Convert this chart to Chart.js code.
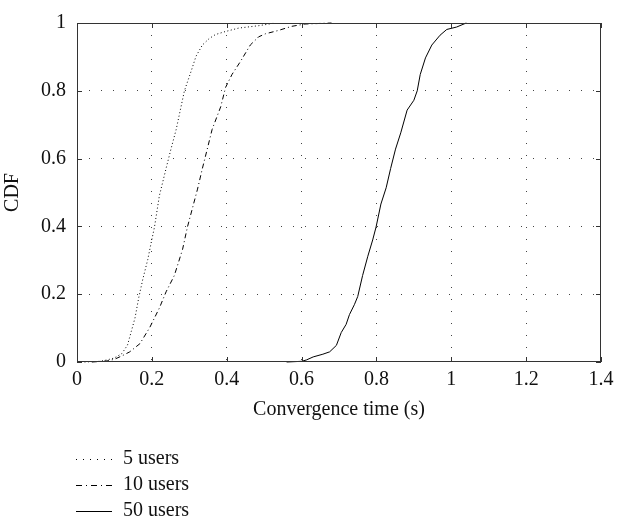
<!DOCTYPE html>
<html lang="en">

<head>
	<meta charset="UTF-8">
	<title>CDF of convergence time</title>
	<script src="https://cdn.jsdelivr.net/npm/chart.js"></script>
	<style>
		body {
			margin: 0;
			padding: 0;
			background: #fff;
		}

		.chart-box {
			width: 619px;
			height: 525px;
		}
	</style>
</head>

<body>

	<div class="chart-box">
		<canvas id="cdfChart" width="619" height="525"></canvas>
	</div>

	<script>

		// Data
		const seriesNames = ['5 users', '10 users', '50 users'];

		const x5 = [0.02, 0.06, 0.08, 0.10, 0.12, 0.135, 0.145, 0.155, 0.165, 0.176, 0.189, 0.198, 0.207, 0.220, 0.238, 0.251, 0.265, 0.287, 0.305, 0.318, 0.335, 0.353, 0.370, 0.397, 0.432, 0.485, 0.53];
		const y5 = [0, 0.002, 0.006, 0.012, 0.025, 0.05, 0.09, 0.13, 0.19, 0.245, 0.302, 0.351, 0.398, 0.49, 0.571, 0.628, 0.686, 0.80, 0.858, 0.902, 0.935, 0.954, 0.966, 0.975, 0.985, 0.992, 1];

		const x10 = [0.04, 0.08, 0.10, 0.12, 0.141, 0.168, 0.194, 0.220, 0.238, 0.260, 0.282, 0.295, 0.309, 0.322, 0.335, 0.348, 0.361, 0.384, 0.397, 0.414, 0.437, 0.463, 0.485, 0.503, 0.538, 0.573, 0.609, 0.68];
		const y10 = [0, 0.003, 0.008, 0.018, 0.03, 0.054, 0.101, 0.159, 0.207, 0.255, 0.332, 0.398, 0.456, 0.51, 0.571, 0.628, 0.686, 0.753, 0.81, 0.848, 0.887, 0.935, 0.959, 0.968, 0.978, 0.99, 0.997, 1];

		const x50 = [0.56, 0.60, 0.613, 0.631, 0.657, 0.675, 0.693, 0.706, 0.719, 0.728, 0.741, 0.750, 0.763, 0.777, 0.790, 0.799, 0.812, 0.826, 0.838, 0.851, 0.865, 0.882, 0.900, 0.909, 0.917, 0.931, 0.948, 0.970, 0.988, 1.014, 1.04];
		const y50 = [0, 0.002, 0.006, 0.015, 0.023, 0.03, 0.049, 0.087, 0.111, 0.14, 0.169, 0.193, 0.255, 0.312, 0.36, 0.398, 0.466, 0.514, 0.571, 0.628, 0.676, 0.743, 0.772, 0.80, 0.848, 0.897, 0.935, 0.964, 0.981, 0.988, 1];

		const xTicks = [0, 0.2, 0.4, 0.6, 0.8, 1, 1.2, 1.4];
		const yTicks = [0, 0.2, 0.4, 0.6, 0.8, 1];

		const FONT = 'Liberation Serif';
		const FONT_SIZE = 20;
		const INK = '#111';

		function toPoints(xs, ys) {
			return xs.map((x, i) => ({x: x, y: ys[i]}));
		}

		function isEdge(value, ticks) {
			return Math.abs(value - ticks[0]) < 1e-9 || Math.abs(value - ticks[ticks.length - 1]) < 1e-9;
		}

		// "1" rather than "1.0", like the original figure
		function tickText(value) {
			return String(+value.toFixed(1));
		}

		// Frame with inward tick marks, MATLAB style
		const framePlugin = {
			id: 'frame',
			afterDatasetsDraw(chart) {
				const {ctx, chartArea: a, scales} = chart;
				const len = 5;
				ctx.save();
				ctx.strokeStyle = '#333';
				ctx.lineWidth = 1;
				ctx.strokeRect(a.left + 0.5, a.top + 0.5, a.right - a.left - 1, a.bottom - a.top - 1);
				ctx.beginPath();
				xTicks.forEach(v => {
					const px = Math.round(scales.x.getPixelForValue(v)) + 0.5;
					ctx.moveTo(px, a.bottom);
					ctx.lineTo(px, a.bottom - len);
					ctx.moveTo(px, a.top);
					ctx.lineTo(px, a.top + len);
				});
				yTicks.forEach(v => {
					const py = Math.round(scales.y.getPixelForValue(v)) + 0.5;
					ctx.moveTo(a.left, py);
					ctx.lineTo(a.left + len, py);
					ctx.moveTo(a.right, py);
					ctx.lineTo(a.right - len, py);
				});
				ctx.stroke();
				ctx.restore();
			}
		};

		// Legend stacked below the plot
		const legendPlugin = {
			id: 'stackLegend',
			afterDraw(chart) {
				const {ctx} = chart;
				const rows = [459, 485, 511];
				ctx.save();
				ctx.font = FONT_SIZE + 'px "' + FONT + '"';
				ctx.textBaseline = 'middle';
				ctx.textAlign = 'left';
				chart.data.datasets.forEach((ds, i) => {
					const y = rows[i] + 0.5;
					ctx.strokeStyle = ds.borderColor;
					ctx.lineWidth = ds.borderWidth;
					ctx.setLineDash(ds.legendDash);
					ctx.beginPath();
					ctx.moveTo(76, y);
					ctx.lineTo(112, y);
					ctx.stroke();
					ctx.setLineDash([]);
					ctx.fillStyle = INK;
					ctx.fillText(ds.label, 123, rows[i]);
				});
				ctx.restore();
			}
		};

		function makeSet(label, xs, ys, dash, legendDash) {
			return {
				label: label,
				data: toPoints(xs, ys),
				showLine: true,
				borderColor: '#000',
				borderWidth: 1,
				borderDash: dash,
				legendDash: legendDash,
				pointRadius: 0,
				tension: 0,
				clip: false
			};
		}

		const ctx = document.getElementById('cdfChart').getContext('2d');
		new Chart(ctx, {
			type: 'scatter',
			data: {
				datasets: [
					makeSet(seriesNames[0], x5, y5, [1, 2.5], [1, 6]),
					makeSet(seriesNames[1], x10, y10, [5, 3, 1, 3], [6, 4, 1, 4]),
					makeSet(seriesNames[2], x50, y50, [], [])
				]
			},
			options: {
				responsive: false,
				animation: false,
				layout: {
					padding: {left: 0, top: 14, right: 13, bottom: 103}
				},
				plugins: {
					legend: {display: false},
					tooltip: {enabled: false}
				},
				scales: {
					x: {
						type: 'linear',
						min: 0,
						max: 1.4,
						afterBuildTicks: scale => {
							scale.ticks = xTicks.map(v => ({value: v}));
						},
						afterFit: scale => {
							scale.height = 60;
						},
						ticks: {
							padding: 5.5,
							color: INK,
							font: {family: FONT, size: FONT_SIZE},
							callback: tickText
						},
						grid: {
							drawTicks: false,
							lineWidth: 1,
							color: c => isEdge(c.tick.value, xTicks) ? 'rgba(0,0,0,0)' : '#444'
						},
						border: {display: false, dash: [1, 11]},
						title: {
							display: true,
							text: 'Convergence time (s)',
							color: INK,
							padding: {top: 0, bottom: 0},
							font: {family: FONT, size: FONT_SIZE}
						}
					},
					y: {
						type: 'linear',
						min: 0,
						max: 1,
						afterBuildTicks: scale => {
							scale.ticks = yTicks.map(v => ({value: v}));
						},
						afterFit: scale => {
							scale.width = 77;
						},
						ticks: {
							padding: 11,
							color: INK,
							font: {family: FONT, size: FONT_SIZE},
							callback: tickText
						},
						grid: {
							drawTicks: false,
							lineWidth: 1,
							color: c => isEdge(c.tick.value, yTicks) ? 'rgba(0,0,0,0)' : '#444'
						},
						border: {display: false, dash: [1, 11]},
						title: {
							display: true,
							text: 'CDF',
							color: INK,
							padding: {top: 0.5, bottom: 0},
							font: {family: FONT, size: FONT_SIZE}
						}
					}
				}
			},
			plugins: [framePlugin, legendPlugin]
		});

	</script>

</body>

</html>
